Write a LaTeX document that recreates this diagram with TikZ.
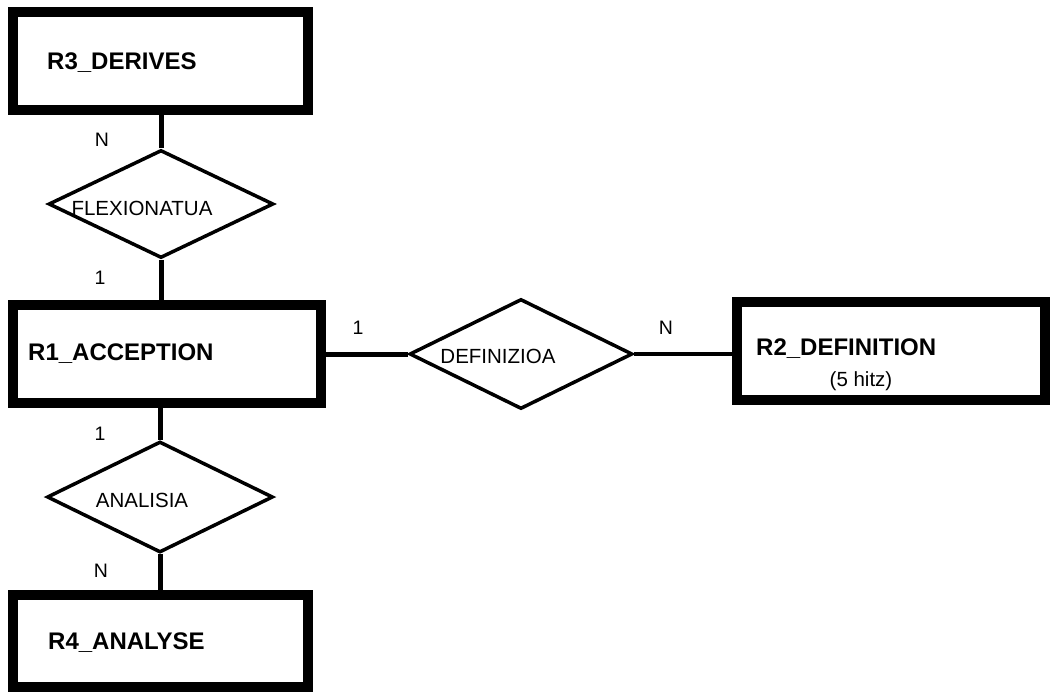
\documentclass[tikz,border=0pt]{standalone}
\usepackage{fontspec}
\setmainfont{Liberation Sans}
\usetikzlibrary{shapes.geometric}
\begin{document}
\begin{tikzpicture}[x=1pt,y=-1pt,
  entity/.style={draw, line width=10pt, inner sep=0pt, minimum width=#1, minimum height=98pt},
  entity/.default=295pt,
  ename/.style={anchor=west, inner sep=0pt, font=\fontsize{24}{24}\selectfont\bfseries},
  rel/.style={draw, diamond, line width=3.5pt, inner sep=0pt, minimum width=225pt, minimum height=108pt},
  rname/.style={anchor=center, inner sep=0pt, font=\fontsize{20.5}{20.5}\selectfont},
  link/.style={line width=5pt},
  card/.style={inner sep=0pt, font=\fontsize{19.5}{19.5}\selectfont}]
\useasboundingbox (0,0) rectangle (1052,696);

% entities
\node[entity] (r3) at (160.5,61) {};
\node[ename] (r3t) at (47,63) {R3\_DERIVES};
\node[entity=308pt] (r1) at (167,354) {};
\node[ename] (r1t) at (28,354) {R1\_ACCEPTION};
\node[entity=308pt] (r2) at (891,351) {};
\node[ename] (r2t) at (756,349) {R2\_DEFINITION};
\node[inner sep=0pt, font=\fontsize{20.5}{20.5}\selectfont] (r2n) at (861,381) {(5 hitz)};
\node[entity, minimum height=92pt] (r4) at (160.5,641) {};
\node[ename] (r4t) at (48,643) {R4\_ANALYSE};

% relationships
\node[rel] (flex) at (161,204) {};
\node[rname] (flext) at (142,208) {FLEXIONATUA};
\node[rel, minimum width=223pt, minimum height=110pt] (def) at (521,354) {};
\node[rname] (deft) at (498,356) {DEFINIZIOA};
\node[rel, minimum width=226pt, minimum height=111pt] (ana) at (160,497) {};
\node[rname] (anat) at (142,500) {ANALISIA};

% connectors
\draw[link] (flex.north) -- (flex.north |- r3.south);
\draw[link] (flex.south) -- (flex.south |- r1.north);
\draw[link] (def.west) -- (def.west -| r1.east);
\draw[link, line width=4pt] (def.east) -- (def.east -| r2.west);
\draw[link] (ana.north) -- (ana.north |- r1.south);
\draw[link] (ana.south) -- (ana.south |- r4.north);

% cardinalities
\node[card] (c1) at (102,140) {N};
\node[card] (c2) at (100,278) {1};
\node[card] (c3) at (358,328) {1};
\node[card] (c4) at (666,328) {N};
\node[card] (c5) at (100,434) {1};
\node[card] (c6) at (101,571) {N};
\end{tikzpicture}
\end{document}
